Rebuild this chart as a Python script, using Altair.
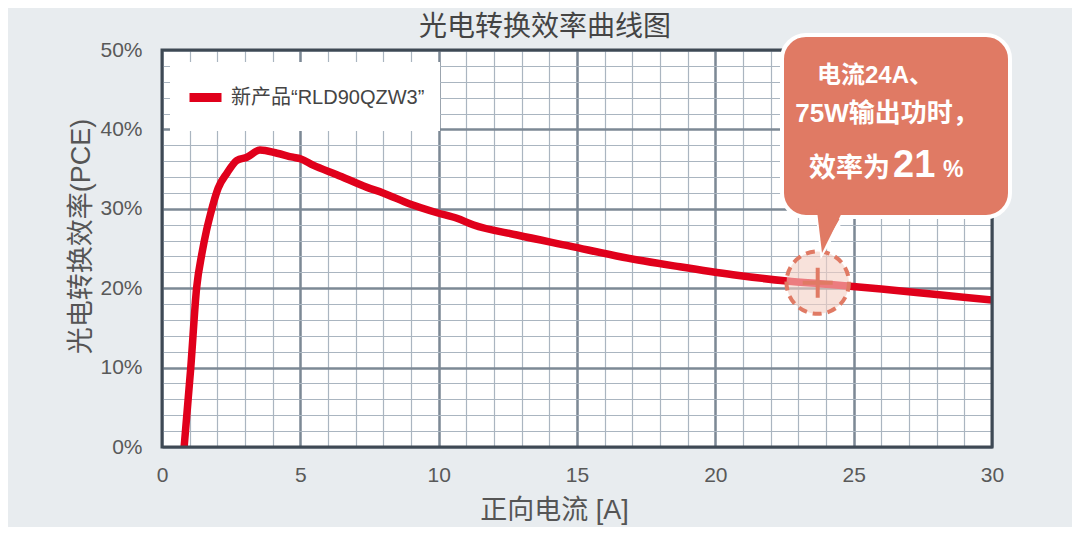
import altair as alt
import pandas as pd

# ---- data ----
current_a = [0.80, 1.04, 1.25, 1.45, 1.61, 1.75, 2.03, 2.35, 2.71, 3.07, 3.54, 4.16,
             4.73, 5.00, 5.46, 6.32, 7.41, 7.99, 8.96, 9.94, 10.66, 11.24, 12.83,
             14.75, 16.66, 18.72, 20.64, 22.59, 24.0, 26.0, 28.0, 30.0]
pce_pct = [0.0, 10.0, 20.0, 24.5, 27.3, 29.3, 32.6, 34.5, 36.1, 36.5, 37.4, 37.0,
           36.5, 36.3, 35.5, 34.3, 32.7, 32.0, 30.6, 29.5, 28.8, 28.0, 26.7,
           25.3, 23.9, 22.7, 21.7, 20.9, 20.5, 19.9, 19.2, 18.5]
series_name = "新产品“RLD90QZW3”"

x_major = [0, 5, 10, 15, 20, 25, 30]
x_minor = list(range(0, 31))
y_major = [0, 10, 20, 30, 40, 50]
y_minor = list(range(0, 51, 2))

annot_current = [23.7]
annot_pce = [20.7]
callout_line1 = "电流24A、"
callout_line2 = "75W输出功时，"
callout_prefix = "效率为"
callout_value = "21"
callout_unit = "%"

title_text = "光电转换效率曲线图"
x_title = "正向电流 [A]"
y_title = "光电转换效率(PCE)"

FONT = "Liberation Sans, Noto Sans CJK SC"
BG = "#e8ecef"
RED = "#e0001b"
SALMON = "#e07a64"
LABEL = "#595959"

df = pd.DataFrame({"current": current_a, "pce": pce_pct, "series": [series_name] * len(current_a)})
annot = pd.DataFrame({"current": annot_current, "pce": annot_pce})
one = pd.DataFrame({"k": [0]})

xs = alt.Scale(domain=[0, 30], nice=False, zero=False)
ys = alt.Scale(domain=[0, 50], nice=False, zero=False)

minor = alt.Chart(df).mark_line(opacity=0).encode(
    x=alt.X("current:Q", scale=xs, axis=alt.Axis(
        orient="top", values=x_minor, grid=True, gridColor="#aab5c0", gridWidth=1.2,
        labels=False, ticks=False, domain=False, title=None)),
    y=alt.Y("pce:Q", scale=ys, axis=alt.Axis(
        orient="right", values=y_minor, grid=True, gridColor="#aab5c0", gridWidth=1.2,
        labels=False, ticks=False, domain=False, title=None)),
)

main = alt.Chart(df).mark_line(strokeWidth=7.5, interpolate="monotone", clip=True).encode(
    x=alt.X("current:Q", scale=xs, axis=alt.Axis(
        orient="bottom", values=x_major, grid=True, gridColor="#7c8995", gridWidth=2.5,
        ticks=False, tickSize=0, domain=False, labelFlush=False, labelOverlap=False,
        labelFont=FONT, labelFontSize=21, labelColor=LABEL, labelPadding=17,
        title=x_title, titleFont=FONT, titleFontSize=27, titleFontWeight="normal",
        titleColor="#555555", titleX=392, titleY=71, titleAlign="center",
        titleBaseline="alphabetic")),
    y=alt.Y("pce:Q", scale=ys, axis=alt.Axis(
        orient="left", values=y_major, grid=True, gridColor="#7c8995", gridWidth=2.5,
        ticks=False, tickSize=0, domain=False, labelFlush=False, labelOverlap=False,
        labelExpr="datum.value + '%'",
        labelFont=FONT, labelFontSize=21, labelColor=LABEL, labelPadding=20,
        title=y_title, titleFont=FONT, titleFontSize=27, titleFontWeight="normal",
        titleColor="#555555", titleX=-81, titleY=186, titleAngle=270,
        titleAlign="center", titleBaseline="middle")),
    color=alt.Color("series:N", scale=alt.Scale(range=[RED]), legend=alt.Legend(
        title=None, orient="none", legendX=8, legendY=12, fillColor="white",
        padding=15, symbolType="stroke", symbolStrokeWidth=9, symbolSize=1024,
        labelFont=FONT, labelFontSize=20, labelColor="#444444", labelOffset=5,
        labelLimit=400)),
)

border = alt.Chart(one).mark_rect(fillOpacity=0, stroke="#3e4954", strokeWidth=3).encode(
    x=alt.value(0), x2=alt.value(830), y=alt.value(0), y2=alt.value(397))

circle = alt.Chart(annot).mark_point(
    shape="circle", size=3900, filled=True, fill="#f3cfc3", fillOpacity=0.6,
    stroke=SALMON, strokeWidth=4, strokeDash=[9, 6], opacity=1).encode(
    x=alt.X("current:Q", scale=xs, axis=None), y=alt.Y("pce:Q", scale=ys, axis=None))

plus = alt.Chart(annot).mark_point(
    shape="M -1 0 L 1 0 M 0 -1 L 0 1", size=900, filled=False,
    stroke=SALMON, strokeWidth=4, opacity=1).encode(
    x=alt.X("current:Q", scale=xs, axis=None), y=alt.Y("pce:Q", scale=ys, axis=None))

pointer_outline = alt.Chart(one).mark_point(
    shape="M -0.6 -0.9 L 0.65 -0.9 L -0.4 0.9 Z", size=1600, filled=True,
    fill=SALMON, stroke="white", strokeWidth=4, opacity=1).encode(
    x=alt.value(668), y=alt.value(185))

box = alt.Chart(one).mark_rect(fill=SALMON, stroke="white", strokeWidth=4, cornerRadius=24).encode(
    x=alt.value(620), x2=alt.value(848), y=alt.value(-15), y2=alt.value(167))

pointer_fill = alt.Chart(one).mark_point(
    shape="M -0.66 -1.3 L 0.69 -1.3 L -0.4 0.9 Z", size=1600, filled=True,
    fill=SALMON, strokeWidth=0, opacity=1).encode(
    x=alt.value(668), y=alt.value(185))


def txt(text, x, y, size, align, weight="bold", color="white"):
    return alt.Chart(one).mark_text(
        font=FONT, fontSize=size, fontWeight=weight, color=color,
        align=align, baseline="alphabetic").encode(
        x=alt.value(x), y=alt.value(y), text=alt.value(text))


title = txt(title_text, 383, -14, 28, "center", weight="normal", color="#444444")
t1 = txt(callout_line1, 713, 33, 24, "center")
t2 = txt(callout_line2, 725, 72, 26, "center")
t3a = txt(callout_prefix, 728, 127, 27, "right")
t3b = txt(callout_value, 731, 127, 38, "left")
t3c = txt(callout_unit, 781, 127, 23, "left")

chart = alt.layer(
    minor, main, border, circle, plus, pointer_outline, box, pointer_fill,
    t1, t2, t3a, t3b, t3c, title
).resolve_axis(x="independent", y="independent").properties(
    width=830, height=397, autosize="none",
    padding={"left": 154, "top": 42, "right": 80, "bottom": 80},
    background=BG,
).configure_view(fill="white", stroke="transparent")

chart.save("out.html", embed_options={"renderer": "svg", "actions": False})
